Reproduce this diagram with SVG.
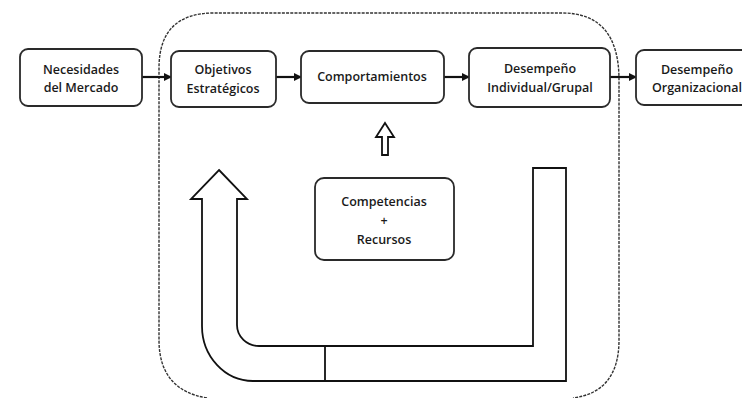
<svg xmlns="http://www.w3.org/2000/svg" width="742" height="398" viewBox="0 0 742 398">
<style>
.box{fill:#fff;stroke:#2a2a2a;stroke-width:1.8}
.t{font-family:"Open Sans","Liberation Sans",sans-serif;font-size:12.5px;font-weight:600;fill:#1a1a1a;text-anchor:middle}
.c{stroke:#111;stroke-width:2.2;fill:none}
.blk{fill:#fff;stroke:#111;stroke-width:1.8;stroke-linejoin:miter}
.dash{fill:none;stroke:#333;stroke-width:1.4;stroke-dasharray:3,1.2}
</style>
<defs>
<marker id="ah" markerWidth="8" markerHeight="8" refX="7" refY="4" orient="auto" markerUnits="userSpaceOnUse">
<path d="M0,0 L8,4 L0,8 Z" fill="#111"/>
</marker>
</defs>
<rect width="742" height="398" fill="#fff"/>
<g id="container">
<path class="dash" d="M207,398 Q159,390 159,340 L159,68 Q159,13 214,13 L562,13 Q619,13 619,80 L619,340 Q619,392 573,398"/>
</g>
<g id="connectors">
<line class="c" x1="142" y1="77" x2="171" y2="77" marker-end="url(#ah)"/>
<line class="c" x1="276" y1="77" x2="301" y2="77" marker-end="url(#ah)"/>
<line class="c" x1="444" y1="77" x2="469" y2="77" marker-end="url(#ah)"/>
<line class="c" x1="610" y1="77" x2="636" y2="77" marker-end="url(#ah)"/>
<path id="up-arrow" class="blk" d="M385,123 L394,137 L388,137 L388,155 L382,155 L382,137 L376,137 Z"/>
<path id="feedback-arrow" class="blk" d="M219,170 L247,199 L237,199 L237,325 A22,21 0 0 0 259,346 L533,346 L533,168 L566,168 L566,381 L253,381 A51,55 0 0 1 202,326 L202,199 L191,199 Z"/>
<line x1="325" y1="346" x2="325" y2="381" stroke="#111" stroke-width="1.8"/>
</g>
<g id="n1"><rect class="box" x="20" y="49" width="122" height="57" rx="8"/><text class="t" x="81" y="74">Necesidades</text><text class="t" x="81" y="92">del Mercado</text></g>
<g id="n2"><rect class="box" x="171" y="51" width="105" height="56" rx="8"/><text class="t" x="223" y="74">Objetivos</text><text class="t" x="223" y="93">Estratégicos</text></g>
<g id="n3"><rect class="box" x="301" y="51" width="143" height="52" rx="8"/><text class="t" x="372" y="81">Comportamientos</text></g>
<g id="n4"><rect class="box" x="469" y="48" width="141" height="59" rx="8"/><text class="t" x="540" y="73">Desempeño</text><text class="t" x="540" y="92">Individual/Grupal</text></g>
<g id="n5"><rect class="box" x="636" y="50" width="122" height="55" rx="8"/><text class="t" x="697" y="74">Desempeño</text><text class="t" x="697" y="92">Organizacional</text></g>
<g id="n6"><rect class="box" x="315" y="178" width="139" height="82" rx="9"/><text class="t" x="384" y="206">Competencias</text><text class="t" x="384" y="225">+</text><text class="t" x="384" y="244">Recursos</text></g>
</svg>
